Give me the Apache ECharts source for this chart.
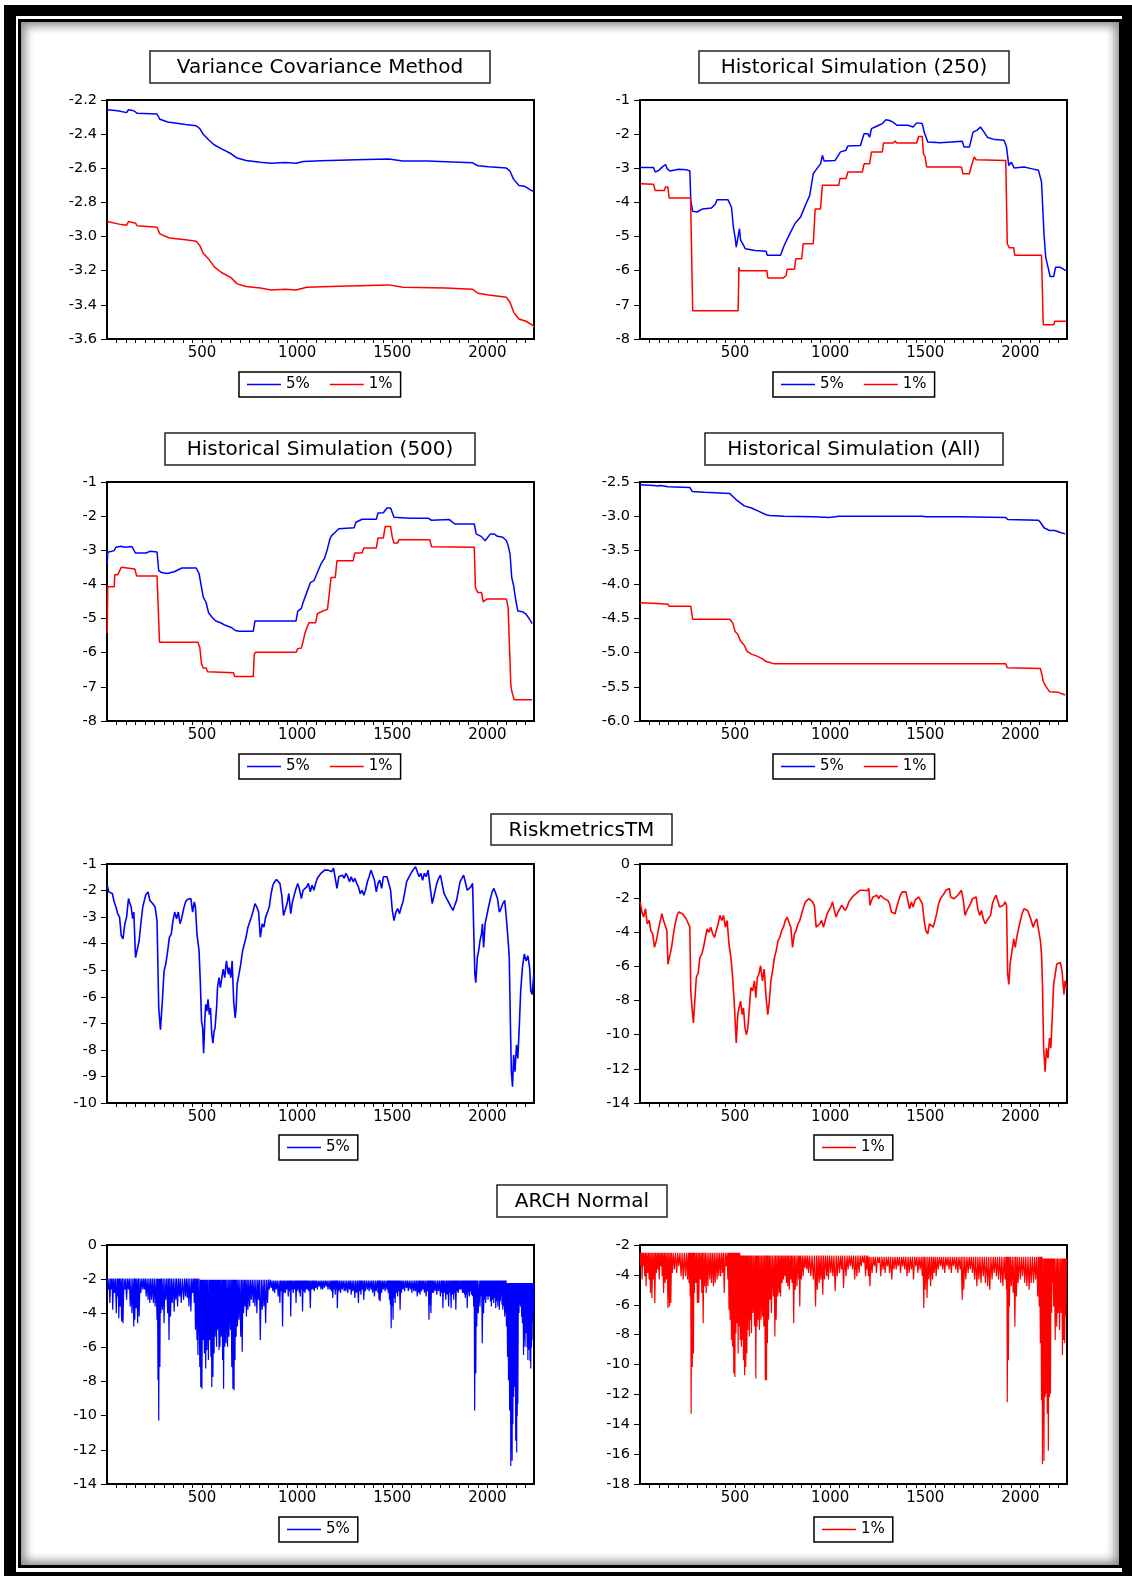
<!DOCTYPE html>
<html><head><meta charset="utf-8">
<script src="https://cdn.jsdelivr.net/npm/echarts@6/dist/echarts.min.js"></script>
<style>
html,body{margin:0;padding:0;background:#fff;}
#outer{position:absolute;left:4px;top:5px;width:1128px;height:1571px;box-sizing:border-box;border-style:solid;border-color:#000;border-width:11px 10px 4px 12px;}
#inner{position:absolute;left:18px;top:19px;width:1104px;height:1549px;box-sizing:border-box;border:3px solid #000;box-shadow:inset 0 0 10px 4px rgba(0,0,0,0.45);}
#chart{position:absolute;left:0;top:0;width:1132px;height:1576px;}
</style></head>
<body>
<div id="outer"></div><div id="inner"></div>
<div id="chart"></div>
<script>
// ---------- data (observation index, VaR value) ----------
const xMax = 2245;
const titles = ['Variance Covariance Method','Historical Simulation (250)','Historical Simulation (500)','Historical Simulation (All)','RiskmetricsTM','ARCH Normal'];
const seriesNames = ['5%','1%'];

const vcv5 = [[1,-2.257],[56,-2.263],[103,-2.274],[113,-2.257],[141,-2.263],[159,-2.278],[263,-2.282],[278,-2.313],[319,-2.329],[413,-2.343],[469,-2.351],[488,-2.368],[506,-2.401],[534,-2.433],[563,-2.462],[600,-2.485],[653,-2.515],[684,-2.540],[731,-2.554],[806,-2.564],[863,-2.570],[938,-2.566],[994,-2.570],[1031,-2.560],[1125,-2.556],[1313,-2.550],[1481,-2.546],[1556,-2.558],[1688,-2.558],[1781,-2.562],[1922,-2.568],[1950,-2.585],[2006,-2.591],[2100,-2.599],[2119,-2.617],[2138,-2.665],[2166,-2.701],[2194,-2.705],[2231,-2.730],[2244,-2.735]];
const vcv1 = [[1,-2.912],[75,-2.930],[103,-2.933],[113,-2.912],[150,-2.922],[159,-2.937],[263,-2.945],[278,-2.984],[328,-3.008],[413,-3.019],[469,-3.027],[488,-3.053],[506,-3.098],[534,-3.131],[563,-3.176],[600,-3.209],[653,-3.242],[684,-3.277],[731,-3.293],[806,-3.301],[863,-3.313],[938,-3.309],[994,-3.313],[1050,-3.297],[1219,-3.291],[1481,-3.283],[1556,-3.297],[1781,-3.301],[1922,-3.309],[1950,-3.332],[2006,-3.342],[2100,-3.356],[2119,-3.385],[2138,-3.444],[2166,-3.483],[2203,-3.496],[2241,-3.522],[2245,-3.53]];

const hs250_5 = [[1,-2.98],[71,-2.98],[80,-3.11],[99,-3.06],[118,-2.96],[134,-2.89],[143,-3.01],[157,-3.08],[204,-3.03],[243,-3.04],[262,-3.08],[267,-3.94],[277,-4.26],[300,-4.28],[329,-4.19],[376,-4.16],[395,-4.06],[405,-3.92],[462,-3.92],[481,-4.14],[491,-4.72],[500,-5.02],[506,-5.31],[516,-5.31],[523,-4.77],[529,-5.11],[539,-5.20],[554,-5.36],[605,-5.41],[663,-5.43],[669,-5.55],[739,-5.55],[758,-5.26],[787,-4.92],[816,-4.61],[844,-4.43],[873,-4.04],[892,-3.80],[911,-3.16],[930,-3.01],[949,-2.87],[959,-2.62],[968,-2.79],[1026,-2.77],[1054,-2.52],[1083,-2.47],[1092,-2.35],[1159,-2.33],[1178,-1.99],[1198,-1.99],[1207,-2.09],[1217,-1.84],[1236,-1.79],[1255,-1.74],[1274,-1.69],[1293,-1.58],[1312,-1.60],[1331,-1.65],[1350,-1.74],[1408,-1.74],[1436,-1.79],[1455,-1.67],[1484,-1.69],[1494,-1.94],[1513,-2.23],[1580,-2.25],[1694,-2.21],[1704,-2.38],[1732,-2.38],[1751,-1.94],[1771,-1.89],[1790,-1.79],[1809,-1.94],[1828,-2.10],[1866,-2.16],[1914,-2.18],[1927,-2.38],[1939,-2.92],[1952,-2.82],[1967,-2.99],[2019,-2.96],[2057,-3.01],[2095,-3.06],[2111,-3.40],[2124,-4.92],[2133,-5.60],[2149,-5.99],[2156,-6.17],[2175,-6.17],[2185,-5.90],[2210,-5.90],[2239,-6.00]];
const hs250_1 = [[1,-3.45],[71,-3.47],[80,-3.65],[128,-3.65],[134,-3.55],[147,-3.55],[153,-3.87],[266,-3.87],[277,-7.17],[516,-7.17],[520,-5.90],[525,-6.00],[667,-6.00],[672,-6.21],[754,-6.21],[768,-6.14],[774,-5.96],[812,-5.96],[819,-5.65],[850,-5.65],[858,-5.21],[911,-5.21],[921,-4.19],[949,-4.19],[959,-3.50],[1045,-3.50],[1051,-3.30],[1083,-3.30],[1093,-3.11],[1169,-3.11],[1178,-2.87],[1207,-2.87],[1217,-2.52],[1274,-2.52],[1280,-2.26],[1331,-2.26],[1341,-2.20],[1350,-2.26],[1455,-2.26],[1465,-2.07],[1484,-2.07],[1490,-2.57],[1499,-2.67],[1507,-2.96],[1690,-2.96],[1698,-3.16],[1732,-3.16],[1742,-2.94],[1751,-2.94],[1757,-2.67],[1767,-2.75],[1923,-2.77],[1931,-5.21],[1942,-5.33],[1965,-5.33],[1971,-5.55],[2111,-5.55],[2120,-7.58],[2175,-7.58],[2181,-7.48],[2239,-7.48]];

const hs500_5 = [[1,-3.40],[4,-3.06],[38,-3.01],[47,-2.91],[75,-2.88],[94,-2.91],[131,-2.89],[150,-3.08],[206,-3.08],[225,-3.03],[263,-3.05],[272,-3.60],[291,-3.66],[319,-3.68],[356,-3.62],[394,-3.52],[469,-3.52],[484,-3.68],[497,-4.09],[506,-4.37],[521,-4.53],[534,-4.83],[553,-4.97],[572,-5.07],[600,-5.13],[619,-5.19],[656,-5.27],[675,-5.35],[694,-5.37],[769,-5.37],[778,-5.07],[994,-5.07],[1003,-4.78],[1022,-4.70],[1031,-4.53],[1050,-4.24],[1069,-3.95],[1088,-3.89],[1106,-3.65],[1125,-3.40],[1144,-3.23],[1159,-2.96],[1172,-2.67],[1181,-2.57],[1200,-2.47],[1219,-2.37],[1299,-2.34],[1309,-2.18],[1341,-2.09],[1416,-2.09],[1425,-1.91],[1453,-1.90],[1472,-1.76],[1491,-1.76],[1509,-2.03],[1519,-2.08],[1594,-2.06],[1688,-2.06],[1706,-2.12],[1716,-2.09],[1800,-2.10],[1828,-2.23],[1931,-2.23],[1941,-2.52],[1969,-2.60],[1988,-2.72],[1997,-2.67],[2016,-2.52],[2034,-2.52],[2053,-2.59],[2081,-2.62],[2100,-2.72],[2109,-2.86],[2119,-3.11],[2128,-3.80],[2138,-4.04],[2147,-4.39],[2160,-4.78],[2184,-4.80],[2203,-4.87],[2222,-5.02],[2235,-5.15]];
const hs500_1 = [[1,-5.42],[4,-4.07],[38,-4.07],[41,-3.72],[56,-3.72],[66,-3.75],[75,-3.50],[81,-3.55],[146,-3.55],[156,-3.75],[263,-3.75],[276,-5.69],[478,-5.69],[488,-5.85],[497,-6.33],[506,-6.45],[521,-6.45],[529,-6.56],[666,-6.59],[671,-6.70],[769,-6.70],[774,-6.05],[780,-5.99],[994,-5.99],[1003,-5.88],[1022,-5.86],[1031,-5.67],[1041,-5.42],[1061,-5.12],[1097,-5.12],[1106,-4.86],[1134,-4.78],[1159,-4.73],[1166,-4.40],[1178,-3.80],[1200,-3.80],[1209,-3.31],[1294,-3.31],[1303,-3.08],[1341,-3.08],[1350,-2.93],[1416,-2.93],[1425,-2.64],[1453,-2.64],[1463,-2.30],[1491,-2.30],[1500,-2.62],[1509,-2.79],[1528,-2.79],[1534,-2.69],[1697,-2.69],[1706,-2.90],[1716,-2.87],[1931,-2.91],[1937,-4.09],[1950,-4.24],[1969,-4.24],[1978,-4.51],[1997,-4.43],[2100,-4.43],[2109,-4.68],[2123,-6.94],[2128,-7.12],[2138,-7.12],[2141,-7.38],[2235,-7.38]];

const hsAll_5 = [[1,-2.54],[71,-2.55],[90,-2.56],[109,-2.55],[147,-2.57],[262,-2.58],[275,-2.64],[338,-2.65],[472,-2.67],[491,-2.72],[510,-2.77],[529,-2.81],[548,-2.85],[586,-2.88],[625,-2.93],[663,-2.98],[682,-2.99],[758,-3.00],[911,-3.01],[997,-3.02],[1045,-3.00],[1198,-3.00],[1484,-3.00],[1503,-3.01],[1675,-3.01],[1923,-3.02],[1933,-3.05],[2095,-3.06],[2105,-3.09],[2124,-3.17],[2153,-3.21],[2181,-3.21],[2210,-3.24],[2235,-3.26]];
const hsAll_1 = [[1,-4.27],[90,-4.28],[147,-4.29],[153,-4.32],[267,-4.32],[277,-4.51],[472,-4.51],[487,-4.56],[500,-4.69],[514,-4.73],[529,-4.83],[548,-4.89],[563,-4.98],[586,-5.02],[615,-5.05],[644,-5.09],[663,-5.13],[678,-5.14],[701,-5.16],[1923,-5.16],[1931,-5.22],[2105,-5.23],[2114,-5.33],[2120,-5.42],[2133,-5.49],[2153,-5.57],[2200,-5.58],[2235,-5.62]];

const rm5 = [[1,-1.80],[9,-2.05],[19,-1.99],[28,-2.11],[38,-2.43],[47,-2.62],[56,-2.87],[66,-3.00],[75,-3.70],[84,-3.82],[94,-3.25],[103,-3.00],[113,-2.30],[118,-2.43],[127,-2.62],[135,-3.06],[141,-2.81],[150,-4.52],[159,-4.46],[169,-3.89],[178,-3.25],[188,-2.62],[203,-2.18],[216,-2.05],[225,-2.37],[240,-2.49],[253,-2.62],[263,-3.13],[272,-6.42],[281,-7.24],[291,-6.16],[300,-5.03],[309,-4.77],[319,-4.27],[328,-3.76],[338,-3.63],[347,-3.13],[356,-2.81],[366,-3.06],[375,-2.81],[384,-3.25],[394,-3.00],[403,-2.68],[413,-2.43],[422,-2.34],[431,-2.37],[441,-2.30],[450,-2.81],[459,-2.43],[465,-2.62],[473,-3.63],[484,-4.27],[491,-5.53],[497,-6.92],[503,-7.18],[508,-8.13],[514,-6.92],[519,-6.29],[525,-6.54],[531,-6.10],[538,-6.67],[544,-6.42],[551,-7.43],[557,-7.75],[563,-7.30],[568,-7.18],[576,-6.42],[581,-5.66],[589,-5.28],[596,-5.66],[604,-5.28],[611,-4.96],[619,-5.28],[628,-4.65],[638,-5.15],[643,-4.90],[651,-5.28],[658,-4.65],[666,-6.16],[674,-6.80],[679,-6.42],[684,-5.53],[694,-5.15],[703,-4.77],[713,-4.27],[722,-4.01],[731,-3.76],[741,-3.38],[750,-3.19],[759,-3.00],[769,-2.75],[778,-2.49],[788,-2.62],[797,-2.81],[806,-3.76],[816,-3.25],[825,-3.38],[834,-3.00],[844,-2.81],[853,-2.62],[863,-2.11],[872,-1.80],[881,-1.67],[891,-1.58],[900,-1.54],[909,-1.73],[919,-2.18],[928,-2.94],[938,-2.87],[947,-2.49],[956,-2.11],[966,-2.87],[975,-2.43],[984,-2.18],[994,-1.92],[1003,-1.73],[1013,-1.99],[1022,-2.30],[1031,-1.99],[1041,-1.92],[1050,-1.86],[1059,-1.73],[1069,-2.05],[1078,-1.80],[1088,-1.99],[1097,-1.73],[1106,-1.54],[1116,-1.48],[1125,-1.35],[1134,-1.29],[1144,-1.23],[1153,-1.29],[1163,-1.23],[1172,-1.16],[1181,-1.29],[1191,-1.16],[1200,-1.10],[1209,-1.92],[1219,-1.48],[1228,-1.54],[1238,-1.42],[1247,-1.54],[1256,-1.35],[1266,-1.48],[1275,-1.67],[1284,-1.48],[1294,-1.67],[1303,-1.54],[1313,-1.73],[1322,-1.86],[1331,-2.11],[1341,-1.99],[1350,-2.18],[1359,-1.99],[1369,-1.67],[1378,-1.48],[1388,-1.23],[1397,-1.29],[1406,-1.61],[1416,-2.05],[1425,-1.73],[1434,-1.61],[1444,-1.92],[1453,-1.48],[1463,-1.42],[1472,-1.48],[1481,-1.54],[1491,-1.99],[1500,-2.75],[1509,-3.13],[1519,-2.81],[1528,-2.68],[1538,-2.87],[1547,-2.62],[1556,-2.43],[1566,-2.05],[1575,-1.67],[1584,-1.54],[1594,-1.48],[1603,-1.29],[1613,-1.23],[1622,-1.10],[1631,-1.12],[1641,-1.48],[1650,-1.35],[1659,-1.61],[1669,-1.35],[1678,-1.48],[1688,-1.23],[1693,-1.16],[1700,-1.92],[1710,-2.49],[1722,-2.11],[1734,-1.73],[1744,-1.54],[1753,-1.42],[1763,-1.48],[1772,-2.11],[1781,-2.24],[1791,-2.37],[1800,-2.30],[1809,-2.62],[1819,-2.75],[1828,-2.56],[1838,-2.37],[1847,-2.43],[1856,-1.67],[1866,-1.54],[1875,-1.42],[1884,-1.48],[1894,-1.99],[1903,-2.05],[1913,-1.86],[1922,-1.73],[1928,-1.67],[1934,-5.15],[1939,-5.47],[1947,-4.52],[1954,-4.27],[1961,-3.89],[1969,-3.63],[1974,-3.25],[1980,-4.14],[1988,-3.25],[1997,-2.94],[2006,-2.62],[2016,-2.30],[2025,-2.05],[2034,-1.92],[2044,-2.11],[2053,-2.30],[2063,-2.81],[2072,-2.68],[2081,-2.49],[2091,-2.37],[2100,-3.06],[2109,-3.89],[2115,-4.52],[2121,-7.05],[2126,-8.82],[2132,-9.39],[2138,-8.19],[2145,-8.82],[2153,-7.81],[2160,-8.32],[2168,-7.05],[2175,-5.78],[2184,-4.90],[2194,-4.39],[2203,-4.65],[2213,-4.46],[2222,-4.90],[2228,-5.78],[2235,-5.91],[2244,-5.15]];

const rm1 = [[1,-2.22],[10,-2.81],[19,-3.11],[29,-2.62],[38,-3.50],[48,-3.31],[57,-3.90],[67,-4.09],[76,-4.88],[86,-4.49],[96,-3.90],[105,-3.41],[115,-2.91],[124,-3.31],[134,-3.41],[141,-3.90],[147,-5.87],[157,-5.77],[166,-4.88],[176,-4.09],[185,-3.50],[195,-3.01],[204,-2.81],[214,-2.72],[223,-2.91],[233,-3.01],[243,-3.21],[252,-3.31],[262,-3.70],[267,-7.44],[275,-8.62],[281,-9.31],[288,-8.03],[296,-6.65],[306,-6.36],[315,-5.47],[325,-5.28],[334,-4.88],[344,-4.29],[353,-3.80],[363,-4.00],[372,-3.70],[382,-4.09],[392,-4.29],[401,-3.90],[411,-3.50],[420,-3.01],[430,-3.31],[439,-3.01],[449,-3.70],[458,-3.31],[468,-4.69],[478,-5.47],[487,-6.65],[497,-8.43],[506,-10.49],[514,-8.82],[521,-8.43],[529,-8.03],[537,-8.82],[544,-8.43],[552,-9.61],[560,-10.0],[567,-9.61],[575,-8.43],[583,-7.24],[592,-7.44],[602,-6.85],[609,-7.83],[617,-6.65],[625,-6.46],[634,-5.96],[644,-6.85],[653,-6.16],[663,-7.83],[672,-8.82],[680,-8.03],[688,-6.85],[697,-6.26],[707,-5.47],[716,-5.08],[726,-4.49],[735,-4.29],[745,-3.90],[754,-3.70],[764,-3.31],[774,-3.11],[783,-3.41],[793,-3.70],[802,-4.88],[812,-4.09],[821,-3.90],[831,-3.50],[840,-3.31],[850,-2.91],[860,-2.52],[869,-2.22],[879,-2.13],[888,-2.03],[898,-2.13],[907,-2.22],[917,-2.42],[926,-3.70],[936,-3.80],[945,-3.50],[955,-3.31],[965,-3.70],[974,-3.31],[984,-2.91],[993,-2.72],[1003,-2.52],[1012,-2.22],[1022,-2.72],[1031,-3.11],[1041,-2.81],[1051,-2.62],[1060,-2.42],[1070,-2.52],[1079,-2.72],[1089,-2.52],[1098,-2.22],[1108,-2.13],[1117,-1.93],[1127,-1.83],[1136,-1.73],[1146,-1.63],[1156,-1.54],[1165,-1.63],[1175,-1.54],[1184,-1.50],[1194,-1.57],[1203,-1.44],[1209,-2.42],[1217,-2.13],[1226,-1.93],[1236,-2.03],[1245,-1.83],[1255,-2.03],[1264,-1.83],[1274,-1.73],[1284,-2.03],[1293,-2.13],[1303,-2.13],[1312,-2.32],[1322,-2.81],[1331,-2.72],[1341,-2.91],[1350,-2.52],[1360,-2.13],[1369,-1.83],[1379,-1.63],[1389,-1.54],[1398,-1.63],[1408,-2.13],[1417,-2.62],[1427,-2.22],[1436,-2.52],[1446,-2.13],[1455,-2.03],[1465,-1.93],[1475,-2.03],[1484,-2.32],[1494,-3.31],[1503,-3.90],[1513,-4.09],[1522,-3.50],[1532,-3.41],[1541,-3.70],[1551,-3.31],[1560,-2.91],[1570,-2.32],[1580,-2.03],[1589,-1.93],[1599,-1.73],[1608,-1.54],[1618,-1.50],[1627,-1.44],[1633,-1.93],[1643,-1.83],[1652,-2.03],[1662,-2.03],[1671,-1.83],[1681,-1.73],[1690,-1.54],[1700,-2.13],[1709,-3.01],[1719,-2.72],[1729,-2.62],[1738,-2.32],[1748,-2.03],[1757,-1.93],[1767,-1.93],[1776,-2.62],[1786,-3.01],[1795,-2.72],[1805,-3.21],[1815,-3.50],[1824,-3.31],[1834,-3.21],[1843,-3.01],[1853,-2.32],[1862,-2.03],[1872,-1.83],[1881,-1.93],[1891,-2.52],[1900,-2.62],[1910,-2.42],[1920,-2.22],[1927,-2.42],[1933,-6.46],[1939,-7.05],[1946,-5.87],[1956,-5.08],[1965,-4.39],[1973,-4.88],[1981,-4.29],[1990,-3.80],[2000,-3.31],[2009,-2.91],[2019,-2.62],[2028,-2.52],[2038,-2.72],[2048,-3.01],[2057,-3.31],[2067,-3.70],[2076,-3.41],[2086,-3.21],[2095,-3.21],[2105,-4.49],[2111,-5.28],[2116,-7.05],[2122,-10.79],[2130,-12.17],[2137,-10.79],[2145,-11.38],[2153,-10.20],[2160,-10.79],[2168,-8.82],[2175,-7.05],[2183,-6.46],[2191,-5.87],[2200,-5.96],[2210,-5.77],[2219,-6.26],[2229,-7.64],[2235,-6.85],[2243,-7.3]];

// ARCH: upper envelope levels (from obs) and downward spikes (obs, value)
const arch5Top = [[0,-1.97],[488,-2.03],[863,-2.08],[2100,-2.22]];
const arch5Spikes = [[6,-2.61],[15,-3.40],[24,-2.61],[30,-3.79],[39,-2.81],[49,-3.99],[56,-3.01],[62,-4.29],[69,-3.60],[77,-4.48],[84,-4.58],[94,-2.61],[103,-3.20],[113,-2.61],[122,-3.60],[131,-3.99],[141,-4.78],[146,-4.38],[154,-3.70],[161,-4.58],[169,-4.19],[178,-2.81],[188,-2.61],[197,-2.61],[206,-3.01],[216,-3.20],[225,-3.40],[234,-3.20],[244,-3.40],[253,-3.60],[263,-4.38],[268,-7.92],[272,-10.28],[278,-7.14],[283,-3.99],[291,-3.79],[300,-4.58],[309,-3.20],[319,-3.99],[326,-5.56],[334,-4.19],[343,-3.40],[353,-3.89],[362,-3.20],[371,-3.60],[381,-3.01],[390,-3.40],[403,-3.20],[413,-3.01],[422,-3.11],[431,-3.60],[441,-3.89],[450,-2.81],[459,-3.40],[465,-4.97],[473,-5.56],[478,-6.45],[488,-7.14],[493,-8.32],[499,-8.42],[506,-5.56],[512,-6.35],[519,-7.24],[525,-6.15],[533,-6.74],[540,-5.56],[546,-6.55],[551,-8.32],[557,-7.73],[563,-6.35],[568,-5.37],[576,-5.96],[581,-4.97],[589,-6.15],[594,-5.96],[600,-5.37],[608,-6.74],[613,-8.42],[619,-5.96],[626,-5.76],[634,-5.96],[641,-5.37],[649,-4.97],[656,-7.14],[662,-8.42],[668,-8.51],[673,-6.74],[679,-5.37],[686,-4.78],[694,-4.38],[703,-5.37],[711,-6.25],[718,-3.99],[726,-3.60],[733,-4.19],[741,-3.79],[750,-3.60],[759,-3.20],[769,-3.40],[778,-3.60],[788,-3.99],[797,-3.20],[806,-5.56],[816,-3.79],[825,-3.60],[834,-4.58],[844,-3.40],[853,-2.61],[863,-2.52],[872,-2.7],[881,-2.81],[890,-2.6],[900,-3.01],[909,-3.40],[916,-2.7],[923,-4.78],[930,-2.8],[938,-2.81],[946,-2.6],[953,-3.01],[960,-2.7],[966,-4.19],[972,-2.6],[979,-2.81],[987,-2.6],[994,-3.40],[1000,-2.7],[1005,-2.61],[1011,-2.8],[1016,-3.01],[1022,-2.6],[1028,-3.89],[1035,-2.7],[1041,-2.81],[1048,-2.6],[1054,-2.61],[1061,-2.7],[1069,-3.70],[1076,-2.6],[1084,-2.61],[1090,-2.7],[1097,-2.52],[1106,-2.6],[1116,-2.42],[1125,-2.6],[1134,-2.61],[1143,-2.5],[1153,-2.42],[1162,-2.6],[1172,-2.61],[1180,-2.7],[1187,-3.11],[1194,-2.6],[1200,-2.91],[1206,-2.6],[1211,-3.70],[1219,-2.7],[1228,-2.81],[1237,-2.6],[1247,-2.71],[1256,-2.7],[1266,-2.81],[1275,-2.6],[1284,-2.91],[1293,-2.7],[1303,-3.11],[1312,-2.8],[1322,-3.40],[1328,-2.7],[1335,-2.91],[1342,-2.6],[1350,-3.20],[1358,-2.7],[1369,-2.61],[1378,-2.7],[1388,-2.61],[1396,-2.8],[1406,-3.01],[1415,-2.7],[1425,-2.81],[1430,-3.2],[1436,-3.30],[1444,-2.8],[1453,-2.61],[1462,-2.7],[1472,-2.61],[1479,-2.8],[1485,-3.20],[1490,-3.5],[1494,-4.88],[1499,-3.6],[1504,-4.38],[1509,-3.1],[1515,-3.40],[1521,-2.8],[1528,-3.01],[1534,-2.7],[1541,-3.79],[1548,-2.8],[1556,-2.61],[1565,-2.7],[1575,-2.52],[1584,-2.7],[1594,-2.61],[1603,-2.8],[1613,-2.71],[1622,-2.7],[1631,-3.01],[1639,-2.8],[1646,-2.91],[1653,-2.7],[1661,-2.61],[1669,-2.8],[1678,-3.01],[1686,-2.7],[1693,-4.38],[1698,-3.5],[1703,-3.99],[1710,-2.8],[1716,-2.81],[1725,-2.7],[1734,-2.91],[1743,-2.7],[1753,-3.01],[1760,-2.8],[1766,-3.70],[1773,-2.8],[1781,-3.20],[1789,-2.9],[1796,-3.60],[1803,-2.8],[1809,-3.70],[1816,-2.9],[1823,-3.20],[1829,-2.8],[1834,-3.79],[1841,-2.7],[1847,-2.81],[1855,-2.61],[1862,-2.61],[1869,-2.8],[1875,-2.81],[1880,-2.9],[1884,-3.11],[1889,-2.9],[1894,-3.70],[1900,-2.8],[1905,-3.01],[1911,-2.7],[1916,-2.91],[1922,-3.0],[1928,-3.60],[1933,-9.69],[1939,-7.53],[1944,-4.78],[1952,-3.99],[1961,-3.60],[1967,-3.0],[1973,-5.76],[1980,-3.99],[1986,-3.2],[1991,-3.40],[1997,-3.0],[2003,-3.20],[2010,-3.01],[2016,-3.3],[2021,-3.60],[2027,-3.2],[2033,-3.40],[2039,-3.1],[2044,-3.70],[2050,-3.3],[2055,-3.60],[2059,-3.2],[2063,-3.79],[2068,-3.3],[2072,-3.01],[2077,-3.5],[2081,-3.79],[2086,-3.6],[2091,-4.19],[2096,-4.0],[2100,-4.78],[2106,-6.55],[2111,-7.92],[2117,-9.69],[2123,-12.94],[2126,-12.0],[2130,-12.64],[2134,-10.5],[2138,-8.91],[2143,-8.32],[2149,-11.46],[2154,-12.15],[2157,-10.0],[2160,-9.30],[2166,-3.99],[2170,-3.5],[2175,-3.60],[2180,-4.2],[2184,-4.58],[2190,-6.45],[2194,-5.5],[2198,-5.96],[2202,-4.6],[2205,-5.17],[2209,-6.0],[2213,-6.74],[2217,-5.5],[2220,-6.15],[2224,-6.8],[2228,-7.24],[2232,-6.0],[2235,-5.56],[2239,-4.5],[2243,-3.99]];

const arch1Top = [[0,-2.52],[529,-2.70],[1198,-2.79],[2114,-2.90]];
const arch1Spikes = [[4,-3.42],[11,-4.31],[17,-3.42],[25,-4.09],[32,-4.76],[40,-3.87],[48,-4.31],[55,-5.21],[63,-5.55],[71,-4.31],[78,-5.89],[86,-3.87],[94,-3.64],[101,-4.31],[109,-3.42],[117,-4.09],[124,-5.21],[132,-4.54],[139,-4.31],[147,-6.22],[155,-6.11],[162,-5.89],[170,-3.87],[181,-3.64],[193,-3.87],[204,-3.42],[216,-4.09],[227,-4.31],[239,-4.09],[250,-4.31],[258,-4.54],[264,-5.44],[269,-13.30],[275,-10.16],[281,-9.26],[286,-5.21],[294,-4.54],[302,-5.89],[309,-5.89],[317,-4.31],[325,-5.21],[332,-7.24],[340,-4.76],[348,-5.21],[357,-4.76],[367,-4.31],[376,-4.54],[386,-4.76],[395,-4.54],[405,-4.31],[414,-4.09],[424,-4.09],[434,-3.87],[443,-5.21],[453,-3.42],[462,-4.31],[468,-6.34],[474,-7.01],[481,-8.36],[487,-8.81],[493,-10.61],[499,-10.83],[504,-7.91],[510,-7.24],[516,-9.26],[521,-7.46],[527,-8.36],[533,-8.81],[539,-8.36],[544,-9.71],[550,-10.72],[556,-10.16],[562,-9.26],[567,-7.69],[575,-8.13],[581,-7.01],[586,-7.91],[594,-6.56],[602,-7.46],[609,-10.94],[615,-7.46],[621,-7.01],[628,-7.69],[636,-7.01],[644,-6.79],[651,-7.46],[659,-11.06],[665,-11.06],[670,-8.58],[676,-7.01],[684,-5.66],[691,-6.56],[701,-5.44],[709,-8.13],[716,-7.01],[724,-5.44],[732,-5.21],[739,-5.44],[747,-4.54],[754,-4.31],[762,-4.09],[770,-4.54],[777,-4.76],[785,-4.99],[793,-4.31],[800,-4.54],[808,-7.24],[816,-4.99],[825,-4.76],[835,-4.31],[840,-6.11],[848,-4.31],[858,-4.09],[867,-3.53],[877,-3.64],[886,-3.87],[898,-4.09],[911,-4.31],[923,-6.11],[932,-4.99],[942,-4.54],[951,-4.31],[961,-5.33],[970,-4.31],[982,-4.09],[991,-4.31],[1003,-3.87],[1014,-4.09],[1026,-5.10],[1037,-4.09],[1049,-3.87],[1060,-3.64],[1070,-4.88],[1083,-4.09],[1094,-3.64],[1106,-3.42],[1117,-3.64],[1129,-4.31],[1140,-4.09],[1152,-3.87],[1163,-3.42],[1175,-3.19],[1186,-4.09],[1194,-3.64],[1201,-4.09],[1209,-4.76],[1220,-3.87],[1232,-3.42],[1243,-3.87],[1255,-3.19],[1266,-4.09],[1278,-3.64],[1289,-3.87],[1301,-3.42],[1312,-3.87],[1324,-4.31],[1335,-3.64],[1347,-3.64],[1358,-3.42],[1370,-3.87],[1381,-3.42],[1392,-3.64],[1404,-4.09],[1415,-3.87],[1427,-3.64],[1438,-4.31],[1450,-3.42],[1461,-3.87],[1473,-3.64],[1484,-4.09],[1492,-6.22],[1499,-4.99],[1509,-5.55],[1518,-4.31],[1528,-4.76],[1538,-4.31],[1547,-3.87],[1557,-4.09],[1568,-3.64],[1580,-3.42],[1591,-3.64],[1602,-3.87],[1614,-3.42],[1625,-3.64],[1637,-3.87],[1648,-3.42],[1660,-3.64],[1671,-3.87],[1683,-3.64],[1694,-5.66],[1702,-4.99],[1713,-4.31],[1725,-3.87],[1736,-3.64],[1748,-3.87],[1759,-4.31],[1771,-4.76],[1782,-4.31],[1793,-4.54],[1805,-4.09],[1816,-4.54],[1828,-4.76],[1839,-4.99],[1851,-4.31],[1862,-3.87],[1874,-4.09],[1885,-4.31],[1897,-4.54],[1908,-4.76],[1920,-4.31],[1927,-4.99],[1931,-12.52],[1937,-9.71],[1942,-6.11],[1952,-4.76],[1962,-5.21],[1971,-7.46],[1979,-5.44],[1988,-4.54],[2000,-4.31],[2011,-4.09],[2023,-4.54],[2034,-4.76],[2046,-4.99],[2057,-4.54],[2069,-4.54],[2080,-4.31],[2091,-5.44],[2099,-6.11],[2105,-8.58],[2111,-12.40],[2116,-16.67],[2124,-16.45],[2130,-12.18],[2135,-11.96],[2141,-13.30],[2147,-15.78],[2153,-12.18],[2158,-11.96],[2164,-6.56],[2170,-4.54],[2175,-6.11],[2183,-8.36],[2191,-7.46],[2198,-6.56],[2206,-7.69],[2214,-6.56],[2221,-9.37],[2227,-8.36],[2233,-8.58],[2239,-6.79]];

// y-axis ranges [min, max, interval]
const yVcv = [-3.6, -2.2, 0.2];
const yHs250 = [-8, -1, 1];
const yHs500 = [-8, -1, 1];
const yHsAll = [-6, -2.5, 0.5];
const yRm5 = [-10, -1, 1];
const yRm1 = [-14, 0, 2];
const yArch5 = [-14, 0, 2];
const yArch1 = [-18, -2, 2];

// ---------- build ----------
// ARCH line: alternates between the upper level (placed between two spikes) and each spike value
function spikeLine(tops, spikes) {
  const topAt = x => { let t = tops[0][1]; for (const [s, v] of tops) if (x >= s) t = v; return t; };
  const out = [[1, topAt(1)]];
  let prev = 1;
  for (const [x, y] of spikes) { const m = (prev + x) / 2; out.push([m, topAt(m)], [x, y]); prev = x; }
  out.push([(prev + xMax) / 2, topAt(xMax)], [xMax, topAt(xMax)]);
  return out;
}
const BLUE = '#0000ff', RED = '#ff0000';
const FONT = 'DejaVu Sans';

const panels = [
  { pos: [107, 100], y: yVcv, dec: 1, w: 1.5, lines: [[vcv5, 0], [vcv1, 1]] },
  { pos: [640, 100], y: yHs250, dec: 0, w: 1.5, lines: [[hs250_5, 0], [hs250_1, 1]] },
  { pos: [107, 482], y: yHs500, dec: 0, w: 1.5, lines: [[hs500_5, 0], [hs500_1, 1]] },
  { pos: [640, 482], y: yHsAll, dec: 1, w: 1.5, lines: [[hsAll_5, 0], [hsAll_1, 1]] },
  { pos: [107, 864], y: yRm5, dec: 0, w: 1.6, lines: [[rm5, 0]] },
  { pos: [640, 864], y: yRm1, dec: 0, w: 1.6, lines: [[rm1, 1]] },
  { pos: [107, 1245], y: yArch5, dec: 0, w: 1.2, lines: [[spikeLine(arch5Top, arch5Spikes), 0]] },
  { pos: [640, 1245], y: yArch1, dec: 0, w: 1.2, lines: [[spikeLine(arch1Top, arch1Spikes), 1]] }
];
const PW = 427, PH = 239;

const grid = [], xAxis = [], yAxis = [], series = [];
panels.forEach((p, i) => {
  grid.push({ left: p.pos[0], top: p.pos[1], width: PW, height: PH, show: true, borderColor: '#000', borderWidth: 2, backgroundColor: 'transparent' });
  xAxis.push({
    type: 'value', gridIndex: i, min: 0, max: xMax, interval: 50,
    axisLine: { onZero: false, lineStyle: { color: '#000', width: 2 } },
    axisTick: { length: 4, lineStyle: { color: '#000', width: 1 } },
    axisLabel: { color: '#000', fontFamily: FONT, fontSize: 15, margin: 7, showMinLabel: false, showMaxLabel: false,
      formatter: v => (v > 0 && Math.round(v) % 500 === 0) ? String(Math.round(v)) : '' },
    splitLine: { show: false }
  });
  yAxis.push({
    type: 'value', gridIndex: i, min: p.y[0], max: p.y[1], interval: p.y[2],
    axisLine: { onZero: false, lineStyle: { color: '#000', width: 2 } },
    axisTick: { length: 6, lineStyle: { color: '#000', width: 1 } },
    axisLabel: { color: '#000', fontFamily: FONT, fontSize: 14.5, margin: 10, padding: [0, 0, 4, 0],
      formatter: v => p.dec ? v.toFixed(p.dec) : String(Math.round(v)) },
    splitLine: { show: false }
  });
  p.lines.forEach(([data, k]) => {
    series.push({
      type: 'line', name: seriesNames[k], xAxisIndex: i, yAxisIndex: i, data: data,
      symbol: 'none', showSymbol: false, sampling: null, animation: false,
      lineStyle: { color: k === 0 ? BLUE : RED, width: p.w }, itemStyle: { color: k === 0 ? BLUE : RED }
    });
  });
});

function legendAt(left, top, names) {
  return { left: left, top: top, orient: 'horizontal', data: names, selectedMode: false,
    icon: 'rect', itemWidth: 34, itemHeight: 1.5, itemGap: 20, padding: [4, 8, 4, 8],
    borderColor: '#000', borderWidth: 1.5, backgroundColor: '#fff',
    textStyle: { fontFamily: FONT, fontSize: 15, color: '#000', lineHeight: 17 } };
}
const legend = [
  legendAt(239, 372, seriesNames), legendAt(773, 372, seriesNames),
  legendAt(239, 754, seriesNames), legendAt(773, 754, seriesNames),
  legendAt(279, 1135, ['5%']), legendAt(814, 1135, ['1%']),
  legendAt(279, 1517, ['5%']), legendAt(814, 1517, ['1%'])
];

const titleBoxes = [[150, 51, 340, 32], [699, 51, 310, 32], [165, 433, 310, 32], [705, 433, 298, 32], [491, 814, 181, 31], [497, 1185, 170, 32]];
const graphic = [];
titleBoxes.forEach((b, i) => {
  graphic.push({ type: 'rect', shape: { x: b[0], y: b[1], width: b[2], height: b[3] }, style: { fill: '#fff', stroke: '#222', lineWidth: 1.5 }, z: 10 });
  graphic.push({ type: 'text', x: b[0] + b[2] / 2, y: b[1] + b[3] / 2 + 1, style: { text: titles[i], fill: '#000', font: '20px "DejaVu Sans"', align: 'center', verticalAlign: 'middle' }, z: 11 });
});

const chart = echarts.init(document.getElementById('chart'), null, { renderer: 'canvas' });
chart.setOption({ animation: false, grid, xAxis, yAxis, series, legend, graphic });
</script>
</body></html>
